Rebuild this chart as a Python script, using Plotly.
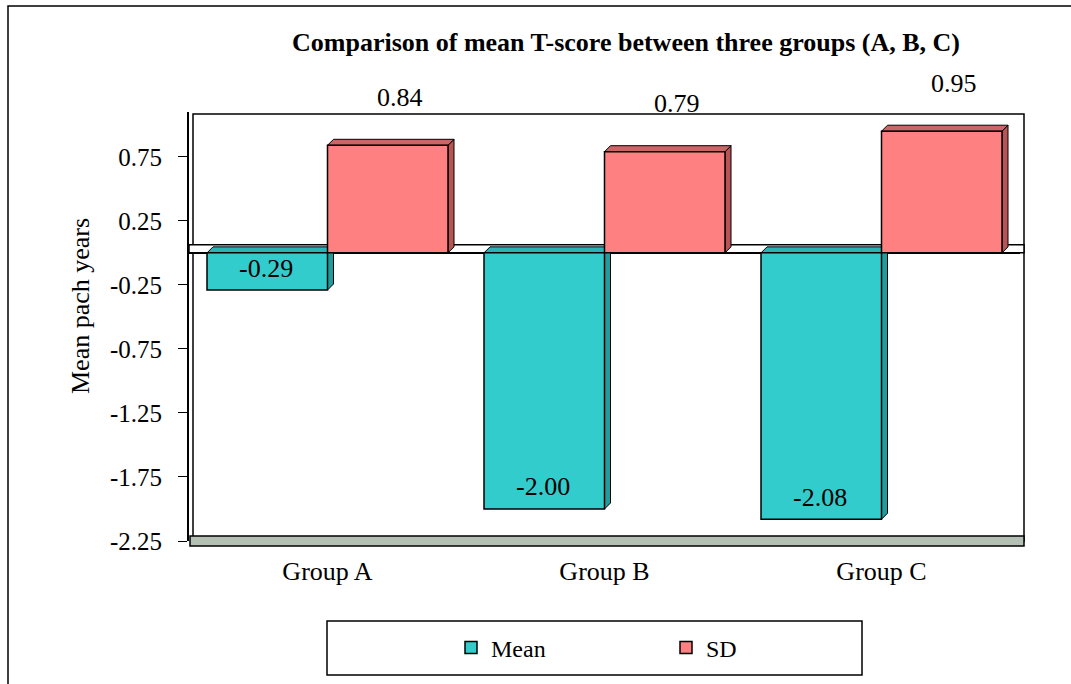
import plotly.graph_objects as go

categories = ["Group A", "Group B", "Group C"]
mean_values = [-0.29, -2.00, -2.08]
sd_values = [0.84, 0.79, 0.95]
mean_labels = ["-0.29", "-2.00", "-2.08"]
sd_labels = ["0.84", "0.79", "0.95"]
y_ticks = [-2.25, -1.75, -1.25, -0.75, -0.25, 0.25, 0.75]
y_tick_labels = ["-2.25", "-1.75", "-1.25", "-0.75", "-0.25", "0.25", "0.75"]

FONT = "Liberation Serif, Times New Roman, serif"
W, H = 1071, 684
ML, MR, MT, MB = 189, 51, 112, 143
Y_RANGE = [-2.25, 1.1]
BARGAP = 0.13

pw = W - ML - MR
ph = H - MT - MB
def px_x(p):
    return (p - ML) / pw
def px_y(p):
    return (H - MB - p) / ph

fig = go.Figure()
fig.add_trace(go.Bar(
    name="Mean", x=categories, y=mean_values,
    marker=dict(color="#33CCCC", line=dict(color="black", width=1.5)),
))
fig.add_trace(go.Bar(
    name="SD", x=categories, y=sd_values,
    marker=dict(color="#FF8080", line=dict(color="black", width=1.5)),
))

annotations = []
for c, v, t in zip(categories, mean_values, mean_labels):
    annotations.append(dict(x=c, y=v, xref="x", yref="y", text=t, showarrow=False,
                            xshift=-62, yshift=22,
                            font=dict(family=FONT, size=26, color="black")))
for c, v, t in zip(categories, sd_values, sd_labels):
    annotations.append(dict(x=c, y=v, xref="x", yref="y", text=t, showarrow=False,
                            xshift=72, yshift=48,
                            font=dict(family=FONT, size=26, color="black")))
annotations.append(dict(x=px_x(80), y=px_y(306), xref="paper", yref="paper",
                        xanchor="center", yanchor="middle",
                        text="Mean pach years", textangle=-90,
                        showarrow=False, font=dict(family=FONT, size=26, color="black")))

shapes = [
    # outer chart border
    dict(type="rect", xref="paper", yref="paper", x0=px_x(8), x1=px_x(1080), y0=px_y(700), y1=px_y(6),
         line=dict(color="black", width=1.5), layer="below"),
    # back wall outline
    dict(type="rect", xref="paper", yref="paper", x0=px_x(193), x1=px_x(1024), y0=0, y1=px_y(114),
         line=dict(color="black", width=1.5), layer="below"),
    # floor slab
    dict(type="rect", xref="paper", yref="paper", x0=px_x(190), x1=px_x(1024), y0=px_y(546), y1=px_y(536),
         fillcolor="#B4C0B4", line=dict(color="black", width=1.5), layer="below"),
    # zero plane
    dict(type="rect", xref="paper", yref="y", x0=0, x1=px_x(1024), y0=0, y1=8,
         ysizemode="pixel", yanchor=0, line=dict(color="black", width=1.5),
         fillcolor="white", layer="below"),
    # legend box
    dict(type="rect", xref="paper", yref="paper", x0=px_x(327), x1=px_x(862), y0=px_y(675), y1=px_y(621),
         line=dict(color="black", width=1.5), fillcolor="white", layer="below"),
]

# 3-D depth faces (top and right side) for each bar, derived from the data
depth_px = 6
ddx = depth_px * len(categories) / pw
ddy = depth_px * (Y_RANGE[1] - Y_RANGE[0]) / ph
bw = (1 - BARGAP) / 2
def depth_faces(i, offset_start, val, side_col, top_col):
    x0 = i + offset_start
    x1 = x0 + bw
    top = max(val, 0)
    bot = min(val, 0)
    side = (f"M{x1},{bot} L{x1+ddx},{bot+ddy} L{x1+ddx},{top+ddy} L{x1},{top} Z")
    topf = (f"M{x0},{top} L{x0+ddx},{top+ddy} L{x1+ddx},{top+ddy} L{x1},{top} Z")
    return [
        dict(type="path", xref="x", yref="y", path=side, fillcolor=side_col,
             line=dict(color="black", width=1), layer="between"),
        dict(type="path", xref="x", yref="y", path=topf, fillcolor=top_col,
             line=dict(color="black", width=1), layer="between"),
    ]
for i, v in enumerate(mean_values):
    shapes += depth_faces(i, -bw, v, "#239B9B", "#2BB3B3")
for i, v in enumerate(sd_values):
    shapes += depth_faces(i, 0, v, "#B85454", "#CC6666")

fig.update_layout(
    width=W, height=H,
    margin=dict(l=ML, r=MR, t=MT, b=MB, autoexpand=False),
    paper_bgcolor="white", plot_bgcolor="rgba(0,0,0,0)",
    barmode="group", bargap=BARGAP, bargroupgap=0,
    font=dict(family=FONT, size=26, color="black"),
    title=dict(text="<b>Comparison of mean T-score between three groups (A, B, C)</b>",
               x=626 / W, xanchor="center", y=1 - 42 / H, yanchor="middle",
               font=dict(family=FONT, size=26, color="black")),
    showlegend=True,
    legend=dict(orientation="h", x=px_x(451), xanchor="left", y=px_y(648), yanchor="middle",
                bgcolor="rgba(0,0,0,0)", borderwidth=0, entrywidth=170,
                font=dict(family=FONT, size=24, color="black")),
    annotations=annotations,
    shapes=shapes,
)
fig.update_xaxes(range=[-0.5, len(categories) - 0.5], showgrid=False, zeroline=False,
                 showline=False, ticks="",
                 ticklabelstandoff=12, tickfont=dict(family=FONT, size=26))
fig.update_yaxes(range=Y_RANGE, tickvals=y_ticks, ticktext=y_tick_labels,
                 showgrid=False, zeroline=True, zerolinecolor="black", zerolinewidth=1.5,
                 showline=True, linecolor="black", linewidth=2, ticks="outside",
                 ticklen=9, tickcolor="black", ticklabelstandoff=11,
                 tickfont=dict(family=FONT, size=25))

fig.write_html("out.html")
